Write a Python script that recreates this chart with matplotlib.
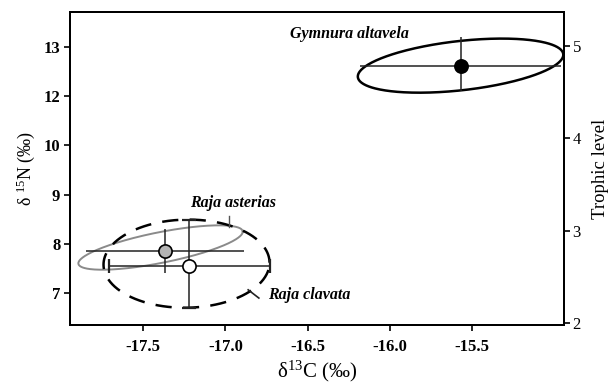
import numpy as np
import matplotlib
matplotlib.use("Agg")
import matplotlib.pyplot as plt

plt.rcParams['font.family'] = ['Liberation Serif', 'DejaVu Serif']
plt.rcParams['mathtext.fontset'] = 'custom'
plt.rcParams['mathtext.rm'] = 'Liberation Serif'
plt.rcParams['mathtext.it'] = 'Liberation Serif:italic'
plt.rcParams['mathtext.bf'] = 'Liberation Serif:bold'

# ---- data (delta13C, delta15N in axis label units) ----
species = ['Gymnura altavela', 'Raja asterias', 'Raja clavata']
mean_c = [-15.57, -17.368, -17.22]
mean_n = [12.61, 7.856, 7.552]
sd_c = [0.613, 0.483, 0.491]
sd_n_low = [0.52, 0.44, 0.842]
sd_n_high = [0.59, 0.44, 0.933]

# standard ellipses: centre, x half-extent, y shift at x-extremes, y half-width
ell_cx = [-15.570, -17.395, -17.237]
ell_cy = [12.613, 7.927, 7.60]
ell_hx = [0.625, 0.50, 0.505]
ell_ky = [0.220, 0.32, 0.02]
ell_hy = [0.502, 0.316, 0.893]

xticks = [-17.5, -17.0, -16.5, -16.0, -15.5]
yticks = [7, 8, 9, 10, 12, 13]
tl_ticks = [2, 3, 4, 5]


def fwd(v):
    v = np.asarray(v, float)
    return np.where(v <= 10, v, np.where(v <= 12, 10 + (v - 10) / 2, v - 1))


def inv(p):
    p = np.asarray(p, float)
    return np.where(p <= 10, p, np.where(p <= 11, 10 + (p - 10) * 2, p + 1))


fig = plt.figure(figsize=(6.08, 3.87), dpi=100)
ax = fig.add_axes([0.1151, 0.1602, 0.9281 - 0.1151, 0.969 - 0.1602])
ax.set_yscale('function', functions=(fwd, inv))
ax.set_xlim(-17.946, -14.939)
ax.set_ylim(6.357, 13.70)

t = np.linspace(0, 2 * np.pi, 400)
ell_styles = [dict(color='black', lw=1.8, ls='-'),
              dict(color='#8a8a8a', lw=1.4, ls='-'),
              dict(color='black', lw=1.8, ls=(0, (6.5, 4.5)))]
for i in range(3):
    ex = ell_cx[i] + ell_hx[i] * np.cos(t)
    ey = ell_cy[i] + ell_ky[i] * np.cos(t) + ell_hy[i] * np.sin(t)
    ax.plot(ex, ey, zorder=2, **ell_styles[i])

caps = [0, 0, 5]
faces = ['black', '#b4b4b4', 'white']
for i in range(3):
    ax.errorbar(mean_c[i], mean_n[i], xerr=sd_c[i],
                yerr=[[sd_n_low[i]], [sd_n_high[i]]],
                fmt='none', ecolor='#222222', elinewidth=1.1,
                capsize=caps[i], capthick=1.6, zorder=3)
    ax.plot(mean_c[i], mean_n[i], 'o', ms=9.5, mfc=faces[i], mec='black',
            mew=1.2, zorder=4)

# labels
ax.text(-16.608, 13.17, 'Gymnura altavela', style='italic', weight='bold',
        fontsize=11.5, ha='left', va='baseline')
ax.text(-16.952, 8.75, 'Raja asterias', style='italic', weight='bold',
        fontsize=11.5, ha='center', va='baseline')
ax.plot([-16.977, -16.977], [8.566, 8.35], color='#555555', lw=1.0)
ax.text(-16.74, 6.876, 'Raja clavata', style='italic', weight='bold',
        fontsize=11.5, ha='left', va='baseline')
ax.plot([-16.862, -16.797], [7.07, 6.903], color='#222222', lw=1.2)

ax.set_xticks(xticks)
ax.set_xticklabels(['%.1f' % v for v in xticks], fontsize=12, weight='bold')
ax.set_yticks(yticks)
ax.set_yticklabels([str(v) for v in yticks], fontsize=12, weight='bold')
ax.yaxis.set_minor_locator(matplotlib.ticker.NullLocator())
ax.tick_params(axis='x', direction='out', length=4, width=1.2, pad=6)
ax.tick_params(axis='y', direction='out', length=4, width=1.2, pad=3)
for s in ax.spines.values():
    s.set_linewidth(1.4)

ax.set_xlabel(r'δ$^{13}$C (‰)', fontsize=15, labelpad=3)
ax.set_ylabel(r'δ $^{15}$N (‰)', fontsize=13, labelpad=5)

ax2 = ax.twinx()
ax2.set_ylim(1.982, 5.364)
ax2.set_yticks(tl_ticks)
ax2.set_yticklabels([str(v) for v in tl_ticks], fontsize=12)
ax2.tick_params(direction='out', length=4, width=1.2, pad=2)
ax2.set_ylabel('Trophic level', fontsize=13.5, labelpad=8)
for s in ax2.spines.values():
    s.set_linewidth(1.4)

fig.savefig('out.png', dpi=100)
